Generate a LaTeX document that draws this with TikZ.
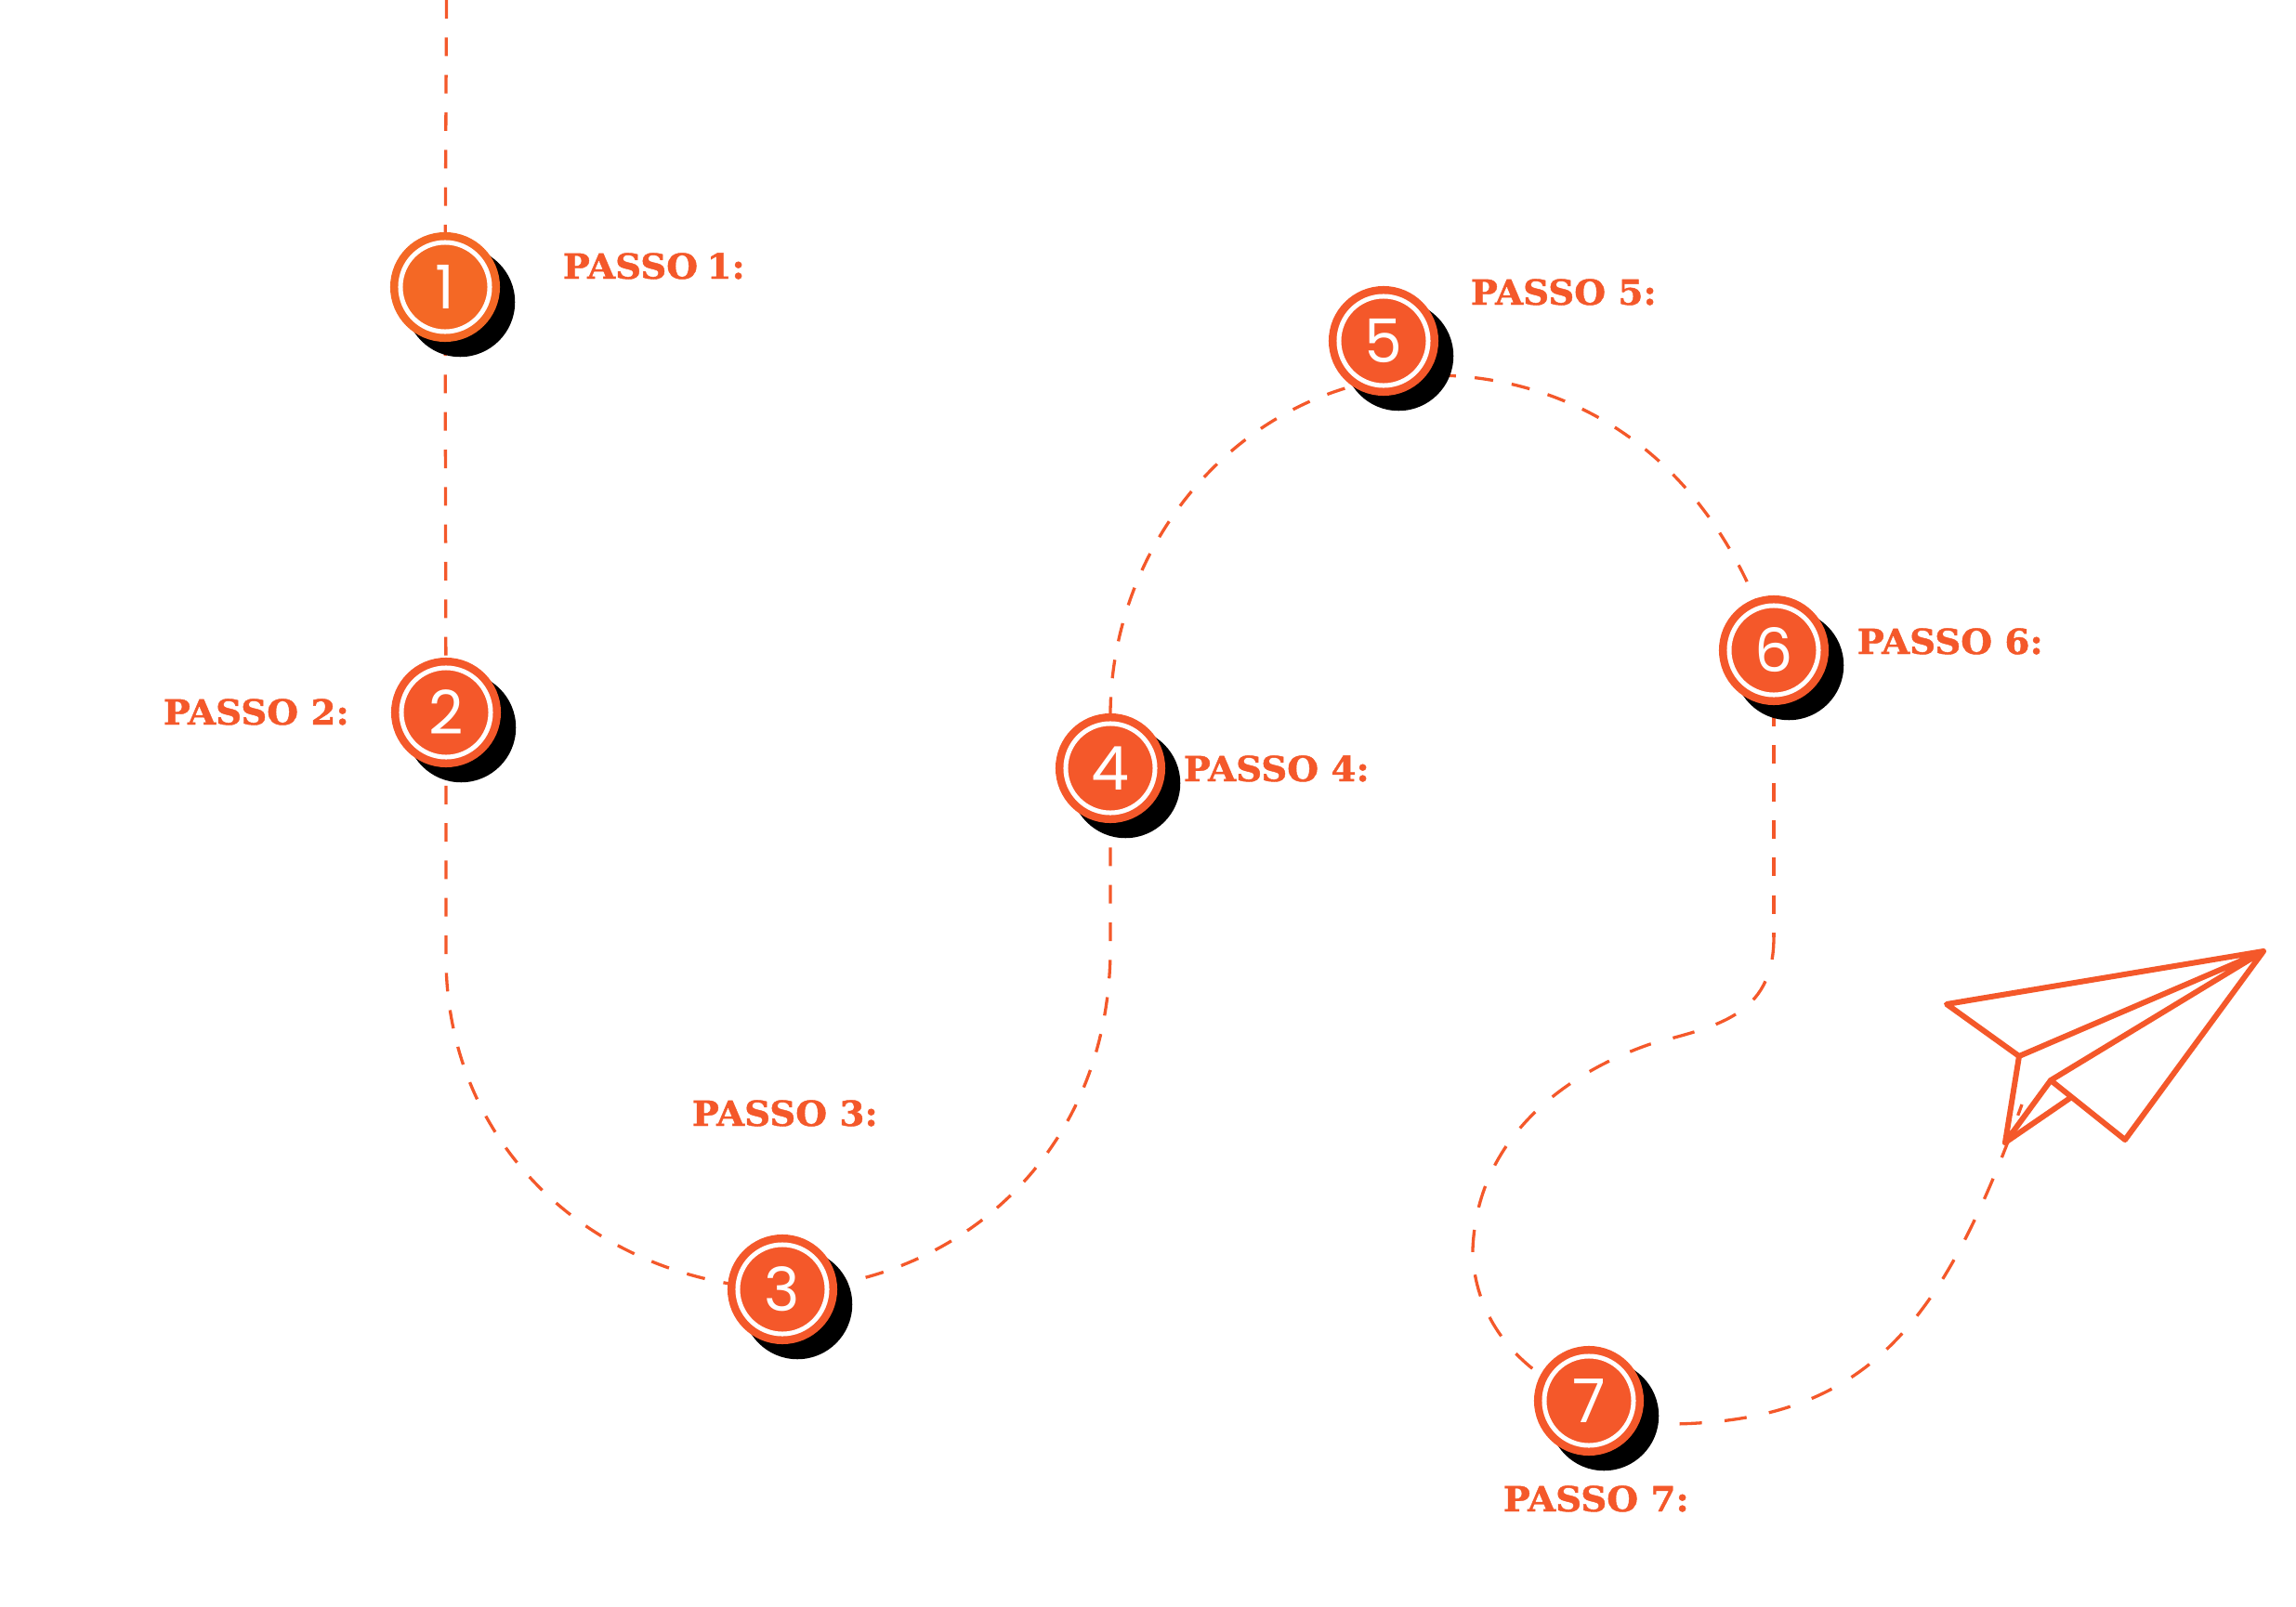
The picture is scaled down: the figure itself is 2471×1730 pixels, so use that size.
\documentclass[tikz,border=0pt]{standalone}
\usepackage{fontspec}
\usetikzlibrary{backgrounds,shadows}
\newfontfamily\labelfont{DejaVu Serif Bold}[FakeStretch=1.04,FakeBold=1.2]
\newfontfamily\numfont{Poppins}
\definecolor{passo}{HTML}{F4582A}
\definecolor{passoone}{HTML}{F46825}
\tikzset{
  stepdot/.style = {circle, inner sep=0pt, outer sep=0pt, minimum size=0.96cm, fill=#1, draw=#1, line width=0.085cm,
    double=white, double distance=0.05cm, text=white,
    font=\numfont\fontsize{18.5}{18.5}\selectfont,
    general shadow={fill=black, draw=none, shadow xshift=0.132cm, shadow yshift=-0.132cm, shadow scale=1.229}},
  steptext/.style = {anchor=base west, inner sep=0pt, text=passo, font=\labelfont\fontsize{10.6}{10.6}\selectfont},
  pathline/.style = {draw=passo, line width=0.033cm, dash pattern=on 0.2cm off 0.203cm, dash phase=#1cm},
  pathwide/.style = {draw=passo, line width=0.033cm, dash pattern=on 0.24cm off 0.245cm, dash phase=#1cm},
  planeline/.style = {draw=passo, line width=0.06cm, line join=round, line cap=round},
}
\begin{document}
\begin{tikzpicture}[x=0.01cm, y=-0.01cm]
\useasboundingbox (0,0) rectangle (2471,1730);

\node[stepdot=passoone] (n1) at (479,309) {1};
\node[stepdot=passo] (n2) at (480,767) {2};
\node[stepdot=passo] (n3) at (842,1388) {3};
\node[stepdot=passo] (n4) at (1195,827) {4};
\node[stepdot=passo] (n5) at (1489,367) {5};
\node[stepdot=passo] (n6) at (1909,700) {6};
\node[stepdot=passo] (n7) at (1710,1508) {7};

\node[steptext] (p1) at (605,300) {PASSO\kern-0.04cm\ 1:};
\node[steptext] (p2) at (175,780) {PASSO 2:};
\node[steptext] (p3) at (744,1212) {PASSO 3:};
\node[steptext] (p4) at (1273,841) {PASSO 4:};
\node[steptext] (p5) at (1582,328) {PASSO 5:};
\node[steptext] (p6) at (1998,704) {PASSO 6:};
\node[steptext] (p7) at (1617,1627) {PASSO 7:};

% the plane
\coordinate (tip) at (2436,1024);
\coordinate (wingl) at (2095,1081);
\coordinate (midl) at (2173,1137);
\coordinate (tail) at (2158,1230);
\coordinate (fold) at (2207,1163);
\coordinate (wingr) at (2287,1227);
\coordinate (join) at (2228,1182);
\draw[planeline] (tip) -- (wingl) -- (midl) -- (tip) -- (fold) -- (wingr) -- cycle;
\draw[planeline] (midl) -- (tail) -- (fold);
\draw[planeline] (tail) -- (join);

\coordinate (top) at (480.5,0);
\coordinate (arc5) at (1530,404);
\coordinate (bend6) at (1909,1009);
\coordinate (end) at (2176,1189);
\begin{scope}[on background layer]
\draw[pathline=0] (top) -- (n1.center);
\draw[pathline=0.266] (n1.center) -- (n2.center);
\draw[pathline=0.019] (n2.center) -- (480,1030) .. controls (480,1235) and (640,1380) .. (n3.center);
\draw[pathline=0.356] (n4.center) -- (1195,1020) .. controls (1195,1250) and (1020,1385) .. (n3.center);
\draw[pathline=0.369] (arc5) .. controls (1340,412) and (1195,580) .. (1195,770) -- (n4.center);
\draw[pathline=0.234] (arc5) .. controls (1680,400) and (1840,480) .. (n6.center);
\draw[pathline=0.186] (n6.center) -- (bend6);
\draw[pathwide=0] (bend6) .. controls (1909,1095) and (1845,1105) .. (1776,1124)
  .. controls (1700,1150) and (1590,1215) .. (1585,1345) .. controls (1585,1400) and (1615,1470) .. (n7.center);
\draw[pathwide=0.41] (n7.-30) .. controls (2000,1545) and (2085,1440) .. (end);
\end{scope}

\end{tikzpicture}
\end{document}
